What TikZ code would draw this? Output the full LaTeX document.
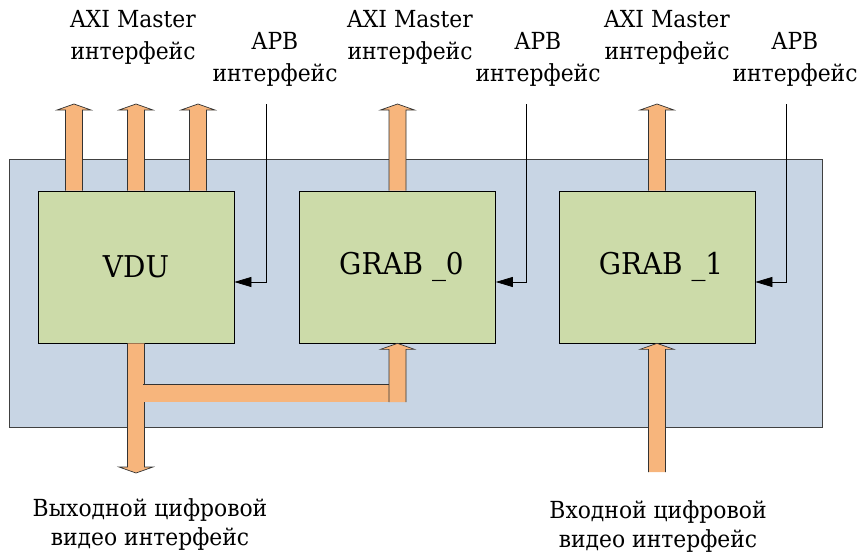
\documentclass[tikz,border=0pt]{standalone}
\usepackage{fontspec}
\setmainfont{DejaVu Serif}[FakeStretch=0.93]
\usetikzlibrary{calc,arrows.meta}
\definecolor{socblue}{RGB}{200,213,228}
\definecolor{ipgreen}{RGB}{204,219,169}
\definecolor{busorange}{RGB}{247,181,124}

\begin{document}
\begin{tikzpicture}[x=1pt,y=-1pt,
  soc/.style={draw=black!75,fill=socblue,line width=0.8pt,minimum width=813pt,minimum height=268pt,inner sep=0pt},
  ipblock/.style={draw=black,fill=ipgreen,line width=0.7pt,minimum width=196pt,minimum height=152pt,inner sep=0pt,font=\fontsize{30}{34}\selectfont},
  iflabel/.style={align=center,inner sep=0pt,font=\fontsize{23.5}{32}\selectfont},
  apb/.style={draw=black,line width=0.7pt,-{Triangle[length=17pt,width=10pt]}},
  bus/.style={draw=black!80,fill=busorange,line width=0.7pt,
    to path={let \p1=(\tikztostart),\p2=(\tikztotarget),\n1={(\y2>\y1)*2-1} in
      ({\x1-8.5pt},\y1) -- ({\x1-8.5pt},{\y2-6pt*\n1}) -- ({\x1-17pt},{\y2-6pt*\n1}) -- (\x1,\y2)
      -- ({\x1+17pt},{\y2-6pt*\n1}) -- ({\x1+8.5pt},{\y2-6pt*\n1}) -- ({\x1+8.5pt},\y1)}},
  busbar/.style={draw=busorange,line width=17pt,preaction={draw=black!80,line width=18.6pt}}]
\useasboundingbox (0,0) rectangle (859,554);

% chip and blocks
\node[soc] (soc) at (415.5,293) {};
\node[ipblock] (vdu) at (136,267) {VDU};
\node[ipblock] (grab0) at (397.5,267) {\hspace{8pt}GRAB \_0};
\node[ipblock] (grab1) at (657,267) {\hspace{8pt}GRAB \_1};

% free ends
\coordinate (axi1a) at (74,104);
\coordinate (axi1b) at (136,104);
\coordinate (axi1c) at (198,104);
\coordinate (axi2) at (397.5,104);
\coordinate (axi3) at (657,104);
\coordinate (apb1) at (266,104);
\coordinate (apb2) at (526,104);
\coordinate (apb3) at (786,104);
\coordinate (vidout) at (136,473);
\coordinate (vidin) at (657,472);
\coordinate (tap) at (143,393);
\coordinate (turn) at (406,393);
\coordinate (merge) at (397.5,402);

% AXI buses
\draw[bus] (axi1a |- vdu.north) to (axi1a);
\draw[bus] (axi1b |- vdu.north) to (axi1b);
\draw[bus] (axi1c |- vdu.north) to (axi1c);
\draw[bus] (axi2 |- grab0.north) to (axi2);
\draw[bus] (axi3 |- grab1.north) to (axi3);

% video buses
\draw[bus] (vidout |- vdu.south) to (vidout);
\draw[busbar] (tap) -- (turn);
\draw[bus] (merge) to (merge |- grab0.south);
\draw[bus] (vidin) to (vidin |- grab1.south);

% APB
\draw[apb] (apb1) |- ([yshift=-15pt]vdu.east);
\draw[apb] (apb2) |- ([yshift=-15pt]grab0.east);
\draw[apb] (apb3) |- ([yshift=-15pt]grab1.east);

% labels
\node[iflabel] (axilbl1) at (133,37) {AXI Master\\интерфейс};
\node[iflabel] (apblbl1) at (275,59) {APB\\интерфейс};
\node[iflabel] (axilbl2) at (410,37) {AXI Master\\интерфейс};
\node[iflabel] (apblbl2) at (538,59) {APB\\интерфейс};
\node[iflabel] (axilbl3) at (667,37) {AXI Master\\интерфейс};
\node[iflabel] (apblbl3) at (795,59) {APB\\интерфейс};
\node[iflabel,font=\fontsize{23.5}{29}\selectfont] (outlbl) at (150,525) {Выходной цифровой\\видео интерфейс};
\node[iflabel,font=\fontsize{23.5}{29}\selectfont] (inlbl) at (658,527) {Входной цифровой\\видео интерфейс};
\end{tikzpicture}
\end{document}
